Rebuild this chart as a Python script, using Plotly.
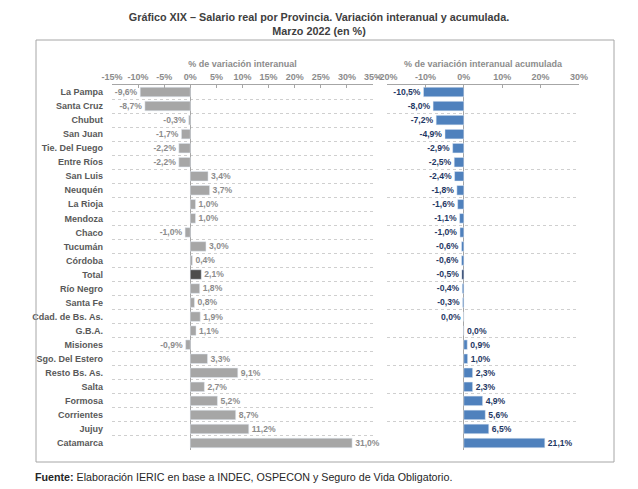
#!/usr/bin/env python3
"""Salario real por provincia: variación interanual y acumulada, marzo 2022."""

import plotly.graph_objects as go

# la página deja 8 px de margen en el body: la figura ocupa el resto de la ventana
OFF = 8
W, H = 638 - OFF, 489 - OFF

provincias = [
    "La Pampa", "Santa Cruz", "Chubut", "San Juan", "Tie. Del Fuego", "Entre Ríos",
    "San Luis", "Neuquén", "La Rioja", "Mendoza", "Chaco", "Tucumán", "Córdoba",
    "Total", "Río Negro", "Santa Fe", "Cdad. de Bs. As.", "G.B.A.", "Misiones",
    "Sgo. Del Estero", "Resto Bs. As.", "Salta", "Formosa", "Corrientes", "Jujuy",
    "Catamarca",
]
var_interanual = [
    -9.6, -8.7, -0.3, -1.7, -2.2, -2.2, 3.4, 3.7, 1.0, 1.0, -1.0, 3.0, 0.4,
    2.1, 1.8, 0.8, 1.9, 1.1, -0.9, 3.3, 9.1, 2.7, 5.2, 8.7, 11.2, 31.0,
]
var_acumulada = [
    -10.5, -8.0, -7.2, -4.9, -2.9, -2.5, -2.4, -1.8, -1.6, -1.1, -1.0, -0.6, -0.6,
    -0.5, -0.4, -0.3, -0.04, 0.04, 0.9, 1.0, 2.3, 2.3, 4.9, 5.6, 6.5, 21.1,
]
ticks_izq = [-15, -10, -5, 0, 5, 10, 15, 20, 25, 30, 35]
ticks_der = [-20, -10, 0, 10, 20, 30]

GRIS = "#A6A6A6"
GRIS_TOTAL = "#4D4D4D"
AZUL = "#4F81BD"
AZUL_TOTAL = "#1F3864"
FONT = "Liberation Sans, Arial, sans-serif"


def px_x(x):
    return (x - OFF) / W


def px_y(y):
    return 1 - (y - OFF) / H


col_izq = [GRIS_TOTAL if p == "Total" else GRIS for p in provincias]
col_der = [AZUL_TOTAL if p == "Total" else AZUL for p in provincias]

fig = go.Figure()
fig.add_trace(go.Bar(
    y=provincias, x=var_interanual, orientation="h", marker_color=col_izq,
    texttemplate="%{x:.1f}%", textposition="outside", cliponaxis=False,
    textfont=dict(size=9, color="#8C8C8C", family=FONT, weight="bold"),
    xaxis="x", yaxis="y", showlegend=False,
))
fig.add_trace(go.Bar(
    y=provincias, x=var_acumulada, orientation="h", marker_color=col_der,
    texttemplate="%{x:.1f}%", textposition="outside", cliponaxis=False,
    textfont=dict(size=9, color=AZUL_TOTAL, family=FONT, weight="bold"),
    xaxis="x2", yaxis="y2", showlegend=False,
))

y_dom = [px_y(450), px_y(85)]
axis_common = dict(
    side="top", ticks="inside", ticklen=3, tickcolor="#A6A6A6",
    showline=True, linecolor="#A6A6A6", linewidth=1, showgrid=False,
    zeroline=True, zerolinecolor="#A6A6A6", zerolinewidth=1,
    tickfont=dict(size=9, color="#8C8C8C", family=FONT, weight="bold"),
    automargin=False, fixedrange=True,
)
title_font = dict(size=9, color="#8C8C8C", family=FONT, weight="bold")
fig.update_layout(
    width=W, height=H, margin=dict(l=0, r=0, t=0, b=0, pad=0, autoexpand=False),
    paper_bgcolor="white", plot_bgcolor="white",
    separators=",.", bargap=0.32,
    font=dict(family=FONT),
    xaxis=dict(
        domain=[px_x(112), px_x(373)], range=[-15, 35],
        tickvals=ticks_izq, ticktext=[f"{v}%" for v in ticks_izq],
        title=dict(text="% de variación interanual", standoff=3, font=title_font),
        anchor="y", **axis_common,
    ),
    xaxis2=dict(
        domain=[px_x(387), px_x(579)], range=[-20, 30],
        tickvals=ticks_der, ticktext=[f"{v}%" for v in ticks_der],
        title=dict(text="% de variación interanual acumulada", standoff=3, font=title_font),
        anchor="y2", **axis_common,
    ),
    yaxis=dict(
        domain=y_dom, autorange="reversed", tickson="boundaries",
        showgrid=True, gridcolor="#CFCFCF", griddash="dot", gridwidth=1,
        ticks="", ticklabelstandoff=8, automargin=False,
        tickfont=dict(size=9, color="#595959", family=FONT, weight="bold"),
        anchor="x", fixedrange=True,
    ),
    yaxis2=dict(
        domain=y_dom, autorange="reversed", tickson="boundaries",
        showgrid=True, gridcolor="#CFCFCF", griddash="dot", gridwidth=1,
        showticklabels=False, ticks="", automargin=False,
        anchor="x2", fixedrange=True,
    ),
    title=dict(
        text="<b>Gráfico XIX – Salario real por Provincia. Variación interanual y acumulada.<br>Marzo 2022 (en %)</b>",
        x=px_x(319), xanchor="center", y=px_y(21), yanchor="top", automargin=False,
        font=dict(size=10.8, color="#404040", family=FONT),
    ),
)

# recuadro del gráfico
fig.add_shape(type="rect", xref="paper", yref="paper",
              x0=px_x(36), x1=px_x(614), y0=px_y(462), y1=px_y(40),
              line=dict(color="#A6A6A6", width=1), fillcolor="rgba(0,0,0,0)")

fig.add_annotation(
    text="<b>Fuente:</b> Elaboración IERIC en base a INDEC, OSPECON y Seguro de Vida Obligatorio.",
    xref="paper", yref="paper", x=px_x(33), y=px_y(477), xanchor="left", yanchor="middle",
    showarrow=False, font=dict(size=10.7, color="#262626", family=FONT),
)

fig.write_html("out.html")
